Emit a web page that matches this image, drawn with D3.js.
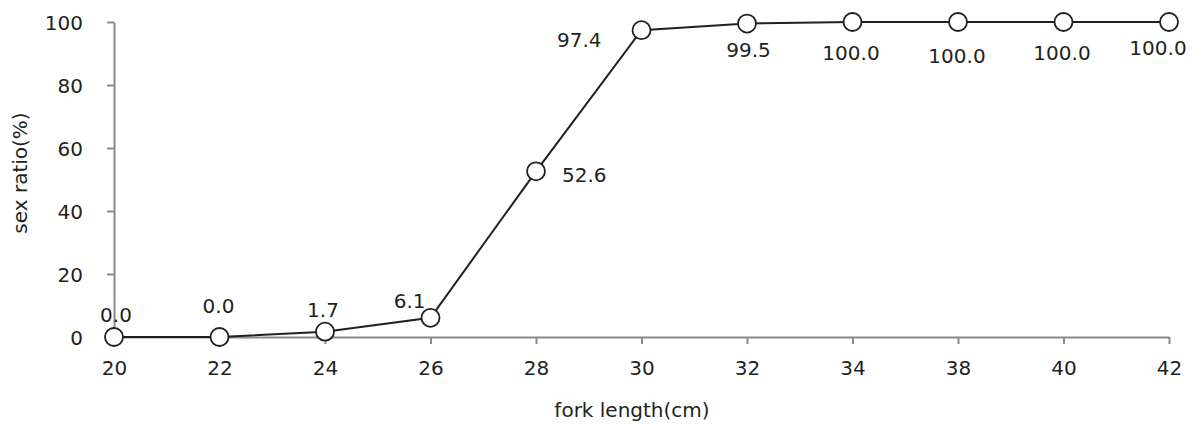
<!DOCTYPE html>
<html><head><meta charset="utf-8">
<script src="https://cdn.jsdelivr.net/npm/d3@7/dist/d3.min.js"></script>
<style>
html,body{margin:0;padding:0;background:#fff;}
text{font-family:"DejaVu Sans",sans-serif;fill:#231f20;}
</style></head>
<body><svg id="c" width="1195" height="425"></svg>
<script>
const categories = ["20","22","24","26","28","30","32","34","38","40","42"];
const ratios = [0.0, 0.0, 1.7, 6.1, 52.6, 97.4, 99.5, 100.0, 100.0, 100.0, 100.0];
const yTicks = [0, 20, 40, 60, 80, 100];
// label placement offsets (dx, dy from point, anchor)
const labelPos = [
  [2,-15,"middle"],[-1,-24,"middle"],[-2,-14.5,"middle"],[-5,-10,"end"],
  [26,11,"start"],[-40,17,"end"],[1.5,33.5,"middle"],[-1.5,38,"middle"],
  [-1,41,"middle"],[-1.5,38,"middle"],[-11,33,"middle"]
];

const svg = d3.select("#c");
const L = 114, R = 1169, T = 22, B = 337;
const x = d3.scalePoint().domain(categories).range([L, R]);
const y = d3.scaleLinear().domain([0, 100]).range([B, T]);
const axisColor = "#8a8a8a";
const FONT = "'DejaVu Sans', sans-serif";

const gx = svg.append("g").attr("transform", `translate(0,${B})`)
  .call(d3.axisBottom(x).tickSize(7).tickPadding(17).tickSizeOuter(0));
const gy = svg.append("g").attr("transform", `translate(${L},0)`)
  .call(d3.axisLeft(y).tickValues(yTicks).tickSize(7).tickPadding(24).tickSizeOuter(0));
[gx, gy].forEach(g => {
  g.select(".domain").attr("stroke", axisColor).attr("stroke-width", 2);
  g.selectAll(".tick line").attr("stroke", axisColor).attr("stroke-width", 2);
  g.selectAll(".tick text").style("font-size", "20px").attr("fill", "#231f20")
   .style("font-family", FONT);
});
gy.selectAll(".tick text").attr("dy", "0.36em");

const line = d3.line().x((d, i) => x(categories[i])).y(d => y(d));
svg.append("path").datum(ratios).attr("d", line)
  .attr("fill", "none").attr("stroke", "#231f20").attr("stroke-width", 2);

svg.selectAll("circle.pt").data(ratios).join("circle").attr("class", "pt")
  .attr("cx", (d, i) => x(categories[i])).attr("cy", d => y(d)).attr("r", 9)
  .attr("fill", "#fff").attr("stroke", "#231f20").attr("stroke-width", 1.8);

svg.selectAll("text.lbl").data(ratios).join("text").attr("class", "lbl")
  .attr("x", (d, i) => x(categories[i]) + labelPos[i][0])
  .attr("y", (d, i) => y(d) + labelPos[i][1])
  .attr("text-anchor", (d, i) => labelPos[i][2])
  .style("font-size", "20px")
  .text(d => d.toFixed(1));

svg.append("text").attr("x", 632).attr("y", 417)
  .attr("text-anchor", "middle").style("font-size", "20px").text("fork length(cm)");
svg.append("text").attr("transform", `translate(27,173) rotate(-90)`)
  .attr("text-anchor", "middle").style("font-size", "20px").text("sex ratio(%)");
</script></body></html>
